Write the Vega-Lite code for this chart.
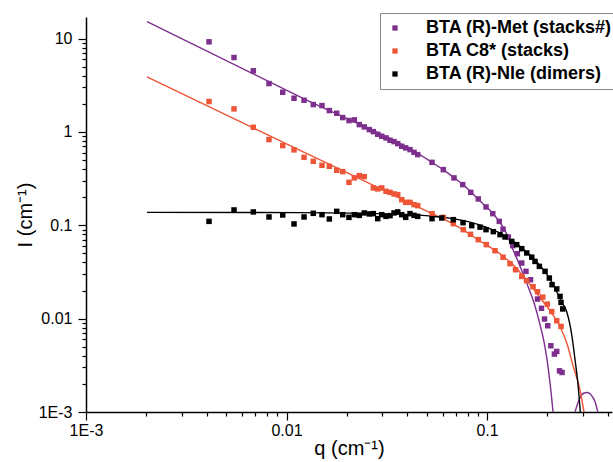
{
  "$schema": "https://vega.github.io/schema/vega-lite/v6.json",
  "width": 526,
  "height": 395,
  "autosize": {"type": "none"},
  "padding": {"left": 86, "top": 17, "right": 1, "bottom": 50},
  "config": {
    "view": {"stroke": null},
    "font": "Liberation Sans",
    "axis": {
      "domainColor": "#000", "domainWidth": 1.5, "tickColor": "#000", "tickWidth": 1.2,
      "labelColor": "#000", "labelFont": "Liberation Sans", "labelFontSize": 16,
      "titleColor": "#000", "titleFont": "Liberation Sans", "titleFontSize": 20, "titleFontWeight": "normal",
      "grid": false, "labelOverlap": false, "labelBound": false, "labelFlush": false
    }
  },
  "datasets": {
    "pts": [
      {"s":"Met","q":0.004107,"I":9.22},{"s":"Met","q":0.005472,"I":6.26},{"s":"Met","q":0.006831,"I":4.51},{"s":"Met","q":0.008178,"I":3.294},{"s":"Met","q":0.009573,"I":2.657},{"s":"Met","q":0.0109,"I":2.292},{"s":"Met","q":0.01223,"I":2.182},{"s":"Met","q":0.0136,"I":1.961},{"s":"Met","q":0.01503,"I":1.913},{"s":"Met","q":0.01635,"I":1.692},{"s":"Met","q":0.0178,"I":1.583},{"s":"Met","q":0.01907,"I":1.423},{"s":"Met","q":0.02049,"I":1.322},{"s":"Met","q":0.02179,"I":1.345},{"s":"Met","q":0.02307,"I":1.197},{"s":"Met","q":0.02443,"I":1.131},{"s":"Met","q":0.02588,"I":1.058},{"s":"Met","q":0.0271,"I":1.007},{"s":"Met","q":0.0285,"I":0.9425},{"s":"Met","q":0.02985,"I":0.897},{"s":"Met","q":0.03135,"I":0.862},{"s":"Met","q":0.03283,"I":0.813},{"s":"Met","q":0.03437,"I":0.787},{"s":"Met","q":0.03586,"I":0.749},{"s":"Met","q":0.03755,"I":0.701},{"s":"Met","q":0.0393,"I":0.674},{"s":"Met","q":0.0413,"I":0.646},{"s":"Met","q":0.04324,"I":0.604},{"s":"Met","q":0.04512,"I":0.571},{"s":"Met","q":0.05317,"I":0.472},
      {"s":"Met","q":0.06053,"I":0.3944},{"s":"Met","q":0.06843,"I":0.3214},{"s":"Met","q":0.07562,"I":0.2724},{"s":"Met","q":0.08295,"I":0.2253},{"s":"Met","q":0.09049,"I":0.1913},{"s":"Met","q":0.09886,"I":0.1571},{"s":"Met","q":0.1068,"I":0.1331},{"s":"Met","q":0.1151,"I":0.1101},{"s":"Met","q":0.1202,"I":0.0908},{"s":"Met","q":0.1277,"I":0.0749},{"s":"Met","q":0.1343,"I":0.0605},{"s":"Met","q":0.1416,"I":0.0496},{"s":"Met","q":0.149,"I":0.0394},{"s":"Met","q":0.1564,"I":0.0321},{"s":"Met","q":0.1648,"I":0.0261},{"s":"Met","q":0.1786,"I":0.0162},{"s":"Met","q":0.1869,"I":0.0129},{"s":"Met","q":0.1935,"I":0.0099},{"s":"Met","q":0.2008,"I":0.00839},{"s":"Met","q":0.2081,"I":0.00512},{"s":"Met","q":0.2167,"I":0.00417},{"s":"Met","q":0.2227,"I":0.00445},{"s":"Met","q":0.2299,"I":0.00276},{"s":"Met","q":0.2366,"I":0.00265},
      {"s":"C8","q":0.004107,"I":2.113},{"s":"C8","q":0.005472,"I":1.764},{"s":"C8","q":0.006831,"I":1.12},{"s":"C8","q":0.008178,"I":0.827},{"s":"C8","q":0.009573,"I":0.713},{"s":"C8","q":0.0109,"I":0.642},{"s":"C8","q":0.01223,"I":0.534},{"s":"C8","q":0.0136,"I":0.484},{"s":"C8","q":0.01503,"I":0.4385},{"s":"C8","q":0.01635,"I":0.428},{"s":"C8","q":0.0178,"I":0.3877},{"s":"C8","q":0.01907,"I":0.3754},{"s":"C8","q":0.02049,"I":0.2884},{"s":"C8","q":0.02179,"I":0.3214},{"s":"C8","q":0.02307,"I":0.3401},{"s":"C8","q":0.02443,"I":0.3318},{"s":"C8","q":0.0271,"I":0.2511},{"s":"C8","q":0.0285,"I":0.245},{"s":"C8","q":0.02985,"I":0.2511},{"s":"C8","q":0.03135,"I":0.2309},{"s":"C8","q":0.03283,"I":0.2253},{"s":"C8","q":0.03437,"I":0.2165},{"s":"C8","q":0.03586,"I":0.2128},{"s":"C8","q":0.03755,"I":0.188},{"s":"C8","q":0.0393,"I":0.1759},{"s":"C8","q":0.0413,"I":0.1759},{"s":"C8","q":0.04324,"I":0.1663},{"s":"C8","q":0.04512,"I":0.1622},{"s":"C8","q":0.05317,"I":0.1331},
      {"s":"C8","q":0.06053,"I":0.1215},{"s":"C8","q":0.06789,"I":0.104},{"s":"C8","q":0.07618,"I":0.0897},{"s":"C8","q":0.08274,"I":0.0799},{"s":"C8","q":0.09049,"I":0.0701},{"s":"C8","q":0.0992,"I":0.062},{"s":"C8","q":0.1096,"I":0.0534},{"s":"C8","q":0.1202,"I":0.0455},{"s":"C8","q":0.1302,"I":0.0388},{"s":"C8","q":0.1387,"I":0.0334},{"s":"C8","q":0.149,"I":0.0283},{"s":"C8","q":0.1574,"I":0.0255},{"s":"C8","q":0.1696,"I":0.022},{"s":"C8","q":0.1786,"I":0.0194},{"s":"C8","q":0.1896,"I":0.017},{"s":"C8","q":0.1998,"I":0.0143},{"s":"C8","q":0.2102,"I":0.0119},{"s":"C8","q":0.2227,"I":0.0095},{"s":"C8","q":0.234,"I":0.00825},
      {"s":"Nle","q":0.004107,"I":0.1101},{"s":"Nle","q":0.005472,"I":0.1459},{"s":"Nle","q":0.006831,"I":0.1389},{"s":"Nle","q":0.008178,"I":0.1227},{"s":"Nle","q":0.009573,"I":0.1289},{"s":"Nle","q":0.0109,"I":0.1033},{"s":"Nle","q":0.01223,"I":0.1227},{"s":"Nle","q":0.0136,"I":0.1342},{"s":"Nle","q":0.01503,"I":0.1298},{"s":"Nle","q":0.01635,"I":0.1168},{"s":"Nle","q":0.0178,"I":0.1409},{"s":"Nle","q":0.01907,"I":0.1298},{"s":"Nle","q":0.02049,"I":0.1215},{"s":"Nle","q":0.02179,"I":0.1298},{"s":"Nle","q":0.02307,"I":0.1276},{"s":"Nle","q":0.02443,"I":0.1355},{"s":"Nle","q":0.02588,"I":0.1322},{"s":"Nle","q":0.0271,"I":0.1332},{"s":"Nle","q":0.0285,"I":0.1177},{"s":"Nle","q":0.02985,"I":0.1298},{"s":"Nle","q":0.03135,"I":0.1245},{"s":"Nle","q":0.03283,"I":0.1267},{"s":"Nle","q":0.03437,"I":0.1355},{"s":"Nle","q":0.03586,"I":0.1389},{"s":"Nle","q":0.03755,"I":0.1298},{"s":"Nle","q":0.0393,"I":0.1215},{"s":"Nle","q":0.0413,"I":0.1332},{"s":"Nle","q":0.04324,"I":0.1276},{"s":"Nle","q":0.04512,"I":0.1245},{"s":"Nle","q":0.05317,"I":0.1177},
      {"s":"Nle","q":0.05943,"I":0.1197},{"s":"Nle","q":0.06789,"I":0.1148},{"s":"Nle","q":0.07592,"I":0.1066},{"s":"Nle","q":0.08389,"I":0.099},{"s":"Nle","q":0.09228,"I":0.0954},{"s":"Nle","q":0.09886,"I":0.0897},{"s":"Nle","q":0.1075,"I":0.0854},{"s":"Nle","q":0.1161,"I":0.0793},{"s":"Nle","q":0.123,"I":0.0749},{"s":"Nle","q":0.1328,"I":0.0672},{"s":"Nle","q":0.1406,"I":0.062},{"s":"Nle","q":0.149,"I":0.0561},{"s":"Nle","q":0.1578,"I":0.0505},{"s":"Nle","q":0.1671,"I":0.0455},{"s":"Nle","q":0.1735,"I":0.041},{"s":"Nle","q":0.1824,"I":0.0363},{"s":"Nle","q":0.1947,"I":0.0321},{"s":"Nle","q":0.2045,"I":0.0272},{"s":"Nle","q":0.211,"I":0.0231},{"s":"Nle","q":0.2227,"I":0.0208},{"s":"Nle","q":0.2313,"I":0.0173},{"s":"Nle","q":0.234,"I":0.0149},{"s":"Nle","q":0.2386,"I":0.0127}
    ],
    "fits": [
      {"s":"Met","seg":"a","q":0.002014,"I":15.21},{"s":"Met","seg":"a","q":0.01168,"I":2.366},{"s":"Met","seg":"a","q":0.05317,"I":0.472},{"s":"Met","seg":"a","q":0.06033,"I":0.3944},{"s":"Met","seg":"a","q":0.06844,"I":0.3237},{"s":"Met","seg":"a","q":0.07592,"I":0.2724},{"s":"Met","seg":"a","q":0.08322,"I":0.2264},{"s":"Met","seg":"a","q":0.09017,"I":0.1913},{"s":"Met","seg":"a","q":0.09886,"I":0.1583},{"s":"Met","seg":"a","q":0.1071,"I":0.1331},{"s":"Met","seg":"a","q":0.1148,"I":0.1106},{"s":"Met","seg":"a","q":0.123,"I":0.0875},{"s":"Met","seg":"a","q":0.1348,"I":0.0548},{"s":"Met","seg":"a","q":0.1444,"I":0.0388},{"s":"Met","seg":"a","q":0.1547,"I":0.0268},{"s":"Met","seg":"a","q":0.1639,"I":0.0194},{"s":"Met","seg":"a","q":0.1715,"I":0.0148},{"s":"Met","seg":"a","q":0.1838,"I":0.0086},{"s":"Met","seg":"a","q":0.1924,"I":0.00565},{"s":"Met","seg":"a","q":0.1992,"I":0.00363},{"s":"Met","seg":"a","q":0.2038,"I":0.0025},{"s":"Met","seg":"a","q":0.2085,"I":0.00165},{"s":"Met","seg":"a","q":0.2134,"I":0.001},
      {"s":"Met","seg":"b","q":0.2747,"I":0.001},{"s":"Met","seg":"b","q":0.2853,"I":0.001286},{"s":"Met","seg":"b","q":0.2943,"I":0.001491},{"s":"Met","seg":"b","q":0.3046,"I":0.001598},{"s":"Met","seg":"b","q":0.3144,"I":0.001618},{"s":"Met","seg":"b","q":0.3246,"I":0.001586},{"s":"Met","seg":"b","q":0.3341,"I":0.001473},{"s":"Met","seg":"b","q":0.3458,"I":0.001286},{"s":"Met","seg":"b","q":0.3566,"I":0.001},
      {"s":"C8","seg":"a","q":0.002014,"I":3.886},{"s":"C8","seg":"a","q":0.01168,"I":0.6353},{"s":"C8","seg":"a","q":0.05317,"I":0.1331},{"s":"C8","seg":"a","q":0.06766,"I":0.1033},{"s":"C8","seg":"a","q":0.09017,"I":0.0701},{"s":"C8","seg":"a","q":0.1202,"I":0.0466},{"s":"C8","seg":"a","q":0.138,"I":0.036},{"s":"C8","seg":"a","q":0.1639,"I":0.0231},{"s":"C8","seg":"a","q":0.1838,"I":0.01675},{"s":"C8","seg":"a","q":0.2062,"I":0.01215},{"s":"C8","seg":"a","q":0.2313,"I":0.00819},{"s":"C8","seg":"a","q":0.2506,"I":0.00538},{"s":"C8","seg":"a","q":0.2685,"I":0.00313},{"s":"C8","seg":"a","q":0.2909,"I":0.00173},{"s":"C8","seg":"a","q":0.3046,"I":0.001},
      {"s":"Nle","seg":"a","q":0.002014,"I":0.1375},{"s":"Nle","seg":"a","q":0.01168,"I":0.1365},{"s":"Nle","seg":"a","q":0.03683,"I":0.1315},{"s":"Nle","seg":"a","q":0.05317,"I":0.1252},{"s":"Nle","seg":"a","q":0.06766,"I":0.1177},{"s":"Nle","seg":"a","q":0.08228,"I":0.108},{"s":"Nle","seg":"a","q":0.09886,"I":0.0954},{"s":"Nle","seg":"a","q":0.1161,"I":0.0823},{"s":"Nle","seg":"a","q":0.1328,"I":0.0692},{"s":"Nle","seg":"a","q":0.149,"I":0.0575},{"s":"Nle","seg":"a","q":0.1671,"I":0.0461},{"s":"Nle","seg":"a","q":0.1874,"I":0.0351},{"s":"Nle","seg":"a","q":0.2085,"I":0.0255},{"s":"Nle","seg":"a","q":0.2227,"I":0.0194},{"s":"Nle","seg":"a","q":0.2367,"I":0.0148},{"s":"Nle","seg":"a","q":0.2497,"I":0.01186},{"s":"Nle","seg":"a","q":0.2645,"I":0.00672},{"s":"Nle","seg":"a","q":0.2747,"I":0.00363},{"s":"Nle","seg":"a","q":0.2843,"I":0.00196},{"s":"Nle","seg":"a","q":0.2919,"I":0.001}
    ]
  },
  "encoding": {
    "x": {
      "field": "q", "type": "quantitative",
      "scale": {"type": "log", "domain": [0.001, 0.42], "nice": false},
      "axis": {
        "title": "q (cm⁻¹)", "titlePadding": 0, "labelPadding": 2,
        "values": [0.001,0.002,0.003,0.004,0.005,0.006,0.007,0.008,0.009,0.01,0.02,0.03,0.04,0.05,0.06,0.07,0.08,0.09,0.1,0.2,0.3,0.4],
        "labelExpr": "datum.value === 0.001 ? '1E-3' : datum.value === 0.01 ? '0.01' : datum.value === 0.1 ? '0.1' : ''",
        "tickSize": {"condition": {"test": "indexof([0.001,0.01,0.1], datum.value) >= 0", "value": 8}, "value": 4}
      }
    },
    "y": {
      "field": "I", "type": "quantitative",
      "scale": {"type": "log", "domain": [0.001, 17], "nice": false},
      "axis": {
        "title": "I (cm⁻¹)", "titlePadding": 3, "labelPadding": 6,
        "values": [0.001,0.002,0.003,0.004,0.005,0.006,0.007,0.008,0.009,0.01,0.02,0.03,0.04,0.05,0.06,0.07,0.08,0.09,0.1,0.2,0.3,0.4,0.5,0.6,0.7,0.8,0.9,1,2,3,4,5,6,7,8,9,10],
        "labelExpr": "datum.value === 0.001 ? '1E-3' : datum.value === 0.01 ? '0.01' : datum.value === 0.1 ? '0.1' : datum.value === 1 ? '1' : datum.value === 10 ? '10' : ''",
        "tickSize": {"condition": {"test": "indexof([0.001,0.01,0.1,1,10], datum.value) >= 0", "value": 8}, "value": 4}
      }
    },
    "color": {
      "field": "s", "type": "nominal",
      "scale": {"domain": ["Met","C8","Nle"], "range": ["#7E2F8E","#EE5436","#000000"]},
      "legend": {
        "title": null, "orient": "none", "legendX": 294, "legendY": -4,
        "symbolType": "square", "symbolSize": 28, "symbolStrokeWidth": 0,
        "labelFont": "Liberation Sans", "labelFontSize": 18, "labelFontWeight": "bold", "labelColor": "#000",
        "labelLimit": 400, "labelOffset": 22, "padding": 6, "rowPadding": 5,
        "strokeColor": "#888", "fillColor": "white",
        "labelExpr": "datum.value === 'Met' ? 'BTA (R)-Met (stacks#)' : datum.value === 'C8' ? 'BTA C8* (stacks)' : 'BTA (R)-Nle (dimers)'"
      }
    }
  },
  "layer": [
    {
      "data": {"name": "fits"},
      "mark": {"type": "line", "strokeWidth": 1.4, "clip": true, "interpolate": "monotone"},
      "encoding": {
        "detail": {"field": "seg"}
      }
    },
    {
      "data": {"name": "pts"},
      "mark": {"type": "square", "size": 30, "opacity": 1, "filled": true, "clip": true},
      "encoding": {}
    }
  ]
}
